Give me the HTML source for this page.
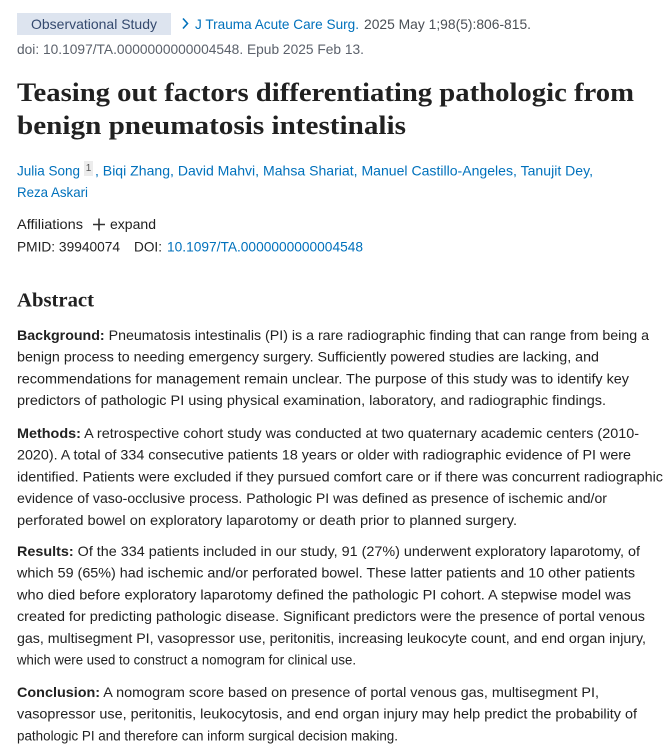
<!DOCTYPE html>
<html><head><meta charset="utf-8"><style>
html,body{margin:0;padding:0;background:#fff;}
svg{display:block;}
.b{font-family:"Liberation Sans",Arial,sans-serif;font-size:14px;fill:#212121;}
.s{font-family:"Liberation Serif",serif;font-weight:bold;fill:#212121;}
.lk{fill:#0071bc;}
.bd{font-weight:bold;}
</style></head><body>
<svg width="666" height="747" viewBox="0 0 666 747" xmlns="http://www.w3.org/2000/svg">
<rect x="17" y="13" width="154" height="22" fill="#dde4ef"/>
<text class="b" x="31" y="29" fill="#34496e" style="fill:#34496e" textLength="126" lengthAdjust="spacingAndGlyphs">Observational Study</text>
<path d="M183 18.5 L187.5 23.5 L183 28.5" fill="none" stroke="#0071bc" stroke-width="1.6"/>
<text class="b lk" x="195" y="29" textLength="164" lengthAdjust="spacingAndGlyphs">J Trauma Acute Care Surg.</text>
<text class="b" x="364" y="29" style="fill:#4a4f55" textLength="167" lengthAdjust="spacingAndGlyphs">2025 May 1;98(5):806-815.</text>
<text class="b" x="17" y="54" style="fill:#5b616b" textLength="347" lengthAdjust="spacingAndGlyphs">doi: 10.1097/TA.0000000000004548. Epub 2025 Feb 13.</text>

<text class="s" x="17" y="101" font-size="26.5" textLength="617" lengthAdjust="spacingAndGlyphs">Teasing out factors differentiating pathologic from</text>
<text class="s" x="17" y="134" font-size="26.5" textLength="389" lengthAdjust="spacingAndGlyphs">benign pneumatosis intestinalis</text>

<text class="b lk" x="17" y="175.5" textLength="63" lengthAdjust="spacingAndGlyphs">Julia Song</text>
<rect x="84" y="161" width="9" height="15" fill="#ececec"/>
<text class="b" x="88.5" y="171" font-size="10" text-anchor="middle" style="fill:#555;font-size:10px">1</text>
<text class="b lk" x="95" y="175.5" textLength="498" lengthAdjust="spacingAndGlyphs">, Biqi Zhang, David Mahvi, Mahsa Shariat, Manuel Castillo-Angeles, Tanujit Dey,</text>
<text class="b lk" x="17" y="197" textLength="71" lengthAdjust="spacingAndGlyphs">Reza Askari</text>

<text class="b" x="17" y="229" textLength="66" lengthAdjust="spacingAndGlyphs">Affiliations</text>
<path d="M93 224.5 H105 M99 218.5 V230.5" stroke="#333" stroke-width="1.6"/>
<text class="b" x="110" y="229" textLength="46" lengthAdjust="spacingAndGlyphs">expand</text>
<text class="b" x="17" y="251.5" textLength="103" lengthAdjust="spacingAndGlyphs">PMID: 39940074</text>
<text class="b" x="134" y="251.5" textLength="28" lengthAdjust="spacingAndGlyphs">DOI:</text>
<text class="b lk" x="167" y="251.5" textLength="196" lengthAdjust="spacingAndGlyphs">10.1097/TA.0000000000004548</text>

<text class="s" x="17" y="306.5" font-size="20.5" textLength="77" lengthAdjust="spacingAndGlyphs">Abstract</text>

<g class="b">
<text x="17" y="340" textLength="632" lengthAdjust="spacingAndGlyphs"><tspan class="bd">Background:</tspan> Pneumatosis intestinalis (PI) is a rare radiographic finding that can range from being a</text>
<text x="17" y="361.7" textLength="582" lengthAdjust="spacingAndGlyphs">benign process to needing emergency surgery. Sufficiently powered studies are lacking, and</text>
<text x="17" y="383.4" textLength="612" lengthAdjust="spacingAndGlyphs">recommendations for management remain unclear. The purpose of this study was to identify key</text>
<text x="17" y="405.1" textLength="589" lengthAdjust="spacingAndGlyphs">predictors of pathologic PI using physical examination, laboratory, and radiographic findings.</text>

<text x="17" y="438" textLength="622" lengthAdjust="spacingAndGlyphs"><tspan class="bd">Methods:</tspan> A retrospective cohort study was conducted at two quaternary academic centers (2010-</text>
<text x="17" y="459.7" textLength="614" lengthAdjust="spacingAndGlyphs">2020). A total of 334 consecutive patients 18 years or older with radiographic evidence of PI were</text>
<text x="17" y="481.4" textLength="646" lengthAdjust="spacingAndGlyphs">identified. Patients were excluded if they pursued comfort care or if there was concurrent radiographic</text>
<text x="17" y="503.1" textLength="590" lengthAdjust="spacingAndGlyphs">evidence of vaso-occlusive process. Pathologic PI was defined as presence of ischemic and/or</text>
<text x="17" y="524.8" textLength="500" lengthAdjust="spacingAndGlyphs">perforated bowel on exploratory laparotomy or death prior to planned surgery.</text>

<text x="17" y="556" textLength="623" lengthAdjust="spacingAndGlyphs"><tspan class="bd">Results:</tspan> Of the 334 patients included in our study, 91 (27%) underwent exploratory laparotomy, of</text>
<text x="17" y="577.7" textLength="618" lengthAdjust="spacingAndGlyphs">which 59 (65%) had ischemic and/or perforated bowel. These latter patients and 10 other patients</text>
<text x="17" y="599.4" textLength="614" lengthAdjust="spacingAndGlyphs">who died before exploratory laparotomy defined the pathologic PI cohort. A stepwise model was</text>
<text x="17" y="621.1" textLength="628" lengthAdjust="spacingAndGlyphs">created for predicting pathologic disease. Significant predictors were the presence of portal venous</text>
<text x="17" y="642.8" textLength="629" lengthAdjust="spacingAndGlyphs">gas, multisegment PI, vasopressor use, peritonitis, increasing leukocyte count, and end organ injury,</text>
<text x="17" y="664.5" textLength="339" lengthAdjust="spacingAndGlyphs">which were used to construct a nomogram for clinical use.</text>

<text x="17" y="697" textLength="582" lengthAdjust="spacingAndGlyphs"><tspan class="bd">Conclusion:</tspan> A nomogram score based on presence of portal venous gas, multisegment PI,</text>
<text x="17" y="718.7" textLength="620" lengthAdjust="spacingAndGlyphs">vasopressor use, peritonitis, leukocytosis, and end organ injury may help predict the probability of</text>
<text x="17" y="740.4" textLength="381" lengthAdjust="spacingAndGlyphs">pathologic PI and therefore can inform surgical decision making.</text>
</g>
</svg>
</body></html>
